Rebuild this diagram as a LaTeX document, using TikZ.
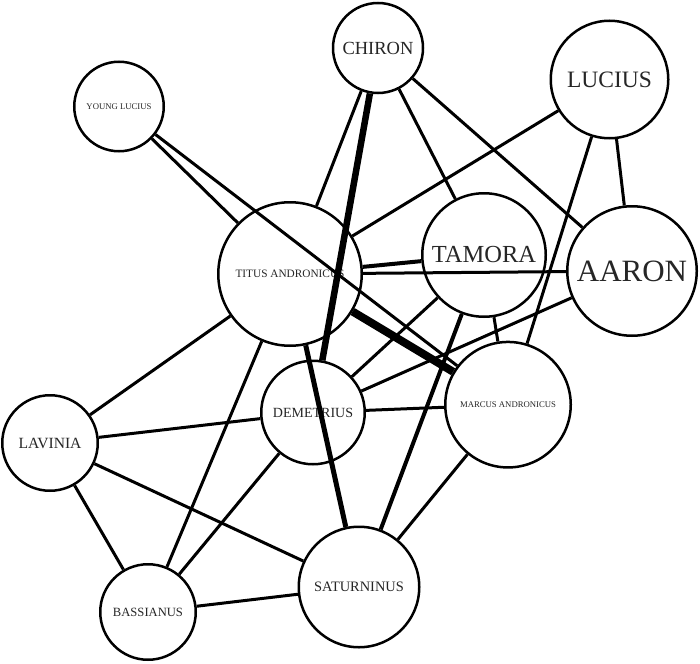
\documentclass[tikz,border=0pt]{standalone}
\usepackage{fontspec}
\setmainfont{Liberation Serif}
\newcommand{\fsz}[1]{\fontsize{#1}{#1}\selectfont}
\begin{document}
\begin{tikzpicture}[x=1pt,y=-1pt,
  person/.style={circle, draw, fill=white, line width=2.5pt, inner sep=0pt, text=black!85},
  link/.style={line width=3pt},
  mid/.style={line width=4pt},
  heavy/.style={line width=5pt},
  heavier/.style={line width=6.5pt},
  heaviest/.style={line width=8pt},
]
\useasboundingbox (0,0) rectangle (700,663);
% nodes
\node[person, minimum size=90pt, font=\fsz{18.5}] (chiron) at (378,48) {CHIRON};
\node[person, minimum size=117.5pt, font=\fsz{23.5}] (lucius) at (609.5,79.5) {LUCIUS};
\node[person, minimum size=89.5pt, font=\fsz{8.7}] (young) at (119,106.5) {YOUNG LUCIUS};
\node[person, minimum size=143.5pt, font=\fsz{11.3}] (titus) at (290,274) {TITUS ANDRONICUS};
\node[person, minimum size=123.5pt, font=\fsz{24.5}] (tamora) at (484,255) {TAMORA};
\node[person, minimum size=129.5pt, font=\fsz{31}] (aaron) at (632,271) {AARON};
\node[person, minimum size=103.5pt, font=\fsz{14}] (demetrius) at (313,412.5) {DEMETRIUS};
\node[person, minimum size=125.5pt, font=\fsz{8.7}] (marcus) at (508,404.7) {MARCUS ANDRONICUS};
\node[person, minimum size=95.5pt, font=\fsz{15.6}] (lavinia) at (50,443) {LAVINIA};
\node[person, minimum size=95.5pt, font=\fsz{12.6}] (bassianus) at (148,612) {BASSIANUS};
\node[person, minimum size=120.5pt, font=\fsz{14.4}] (saturninus) at (359,587) {SATURNINUS};
% edges
\draw[link] (young) -- (titus);
\draw[link] (young) -- (marcus);
\draw[link] (chiron) -- (titus);
\draw[link] (chiron) -- (tamora);
\draw[link] (chiron) -- (aaron);
\draw[link] (lucius) -- (titus);
\draw[link] (lucius) -- (aaron);
\draw[link] (lucius) -- (marcus);
\draw[link] (titus) -- (aaron);
\draw[link] (titus) -- (lavinia);
\draw[link] (titus) -- (bassianus);
\draw[link] (tamora) -- (demetrius);
\draw[link] (tamora) -- (marcus);
\draw[link] (aaron) -- (demetrius);
\draw[link] (demetrius) -- (marcus);
\draw[link] (demetrius) -- (lavinia);
\draw[link] (demetrius) -- (bassianus);
\draw[link] (marcus) -- (saturninus);
\draw[link] (lavinia) -- (bassianus);
\draw[link] (lavinia) -- (saturninus);
\draw[link] (bassianus) -- (saturninus);
\draw[mid] (titus) -- (tamora);
\draw[mid] (tamora) -- (saturninus);
\draw[heavy] (titus) -- (saturninus);
\draw[heavier] (chiron) -- (demetrius);
\draw[heaviest] (titus) -- (marcus);
\end{tikzpicture}
\end{document}
